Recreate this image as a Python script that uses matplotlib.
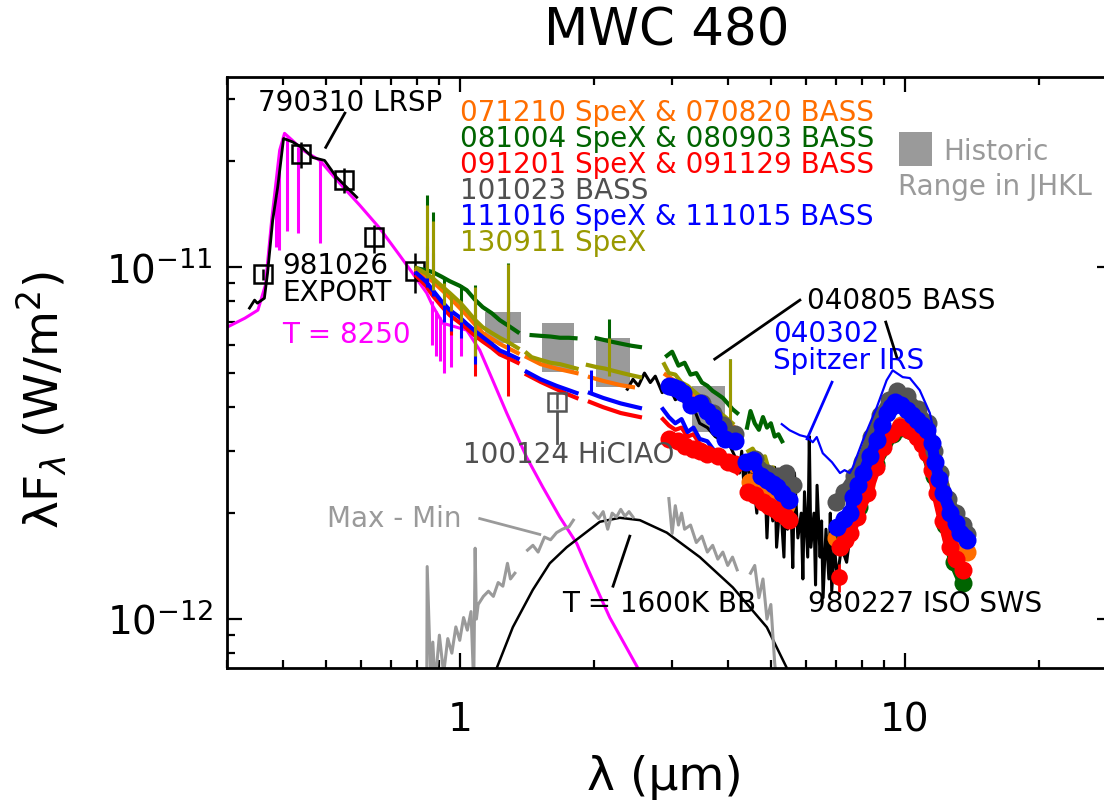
import numpy as np
import matplotlib
matplotlib.use("Agg")
import matplotlib.pyplot as plt
from matplotlib.ticker import FuncFormatter, NullFormatter

nan = np.nan
SCALE = 1e-12  # all fluxes below are in units of 1e-12 W/m^2

# --- colours of the data sets
c_orange = '#ff6e00'
c_green = '#006400'
c_red = '#ff0000'
c_gray = '#555555'
c_blue = '#0000ff'
c_olive = '#999900'
c_hist = '#9a9a9a'

# --- Kurucz model, T = 8250
model_wl = [0.30, 0.329, 0.352, 0.366, 0.378, 0.394, 0.404, 0.421, 0.444, 0.485, 0.529, 0.596,
            0.661, 0.733, 0.784, 0.843, 0.870, 0.916, 1.037, 1.109, 1.186, 1.275, 1.414, 1.537,
            1.678, 1.832, 1.929, 2.173, 2.512, 2.67]
model_fx = [6.75, 7.16, 7.55, 8.89, 13.6, 21.5, 24.0, 22.9, 21.5, 20.1, 17.7, 15.0,
            12.9, 10.8, 9.6, 8.44, 7.75, 6.93, 6.62, 5.81, 4.77, 3.85, 2.88, 2.37,
            1.95, 1.64, 1.41, 1.01, 0.726, 0.63]
model_line_wl = [0.386, 0.392, 0.410, 0.434, 0.486, 0.866, 0.886, 0.901, 0.923, 0.955, 1.005]
model_line_lo = [11.4, 11.2, 12.7, 12.5, 11.7, 6.0, 5.6, 5.4, 5.0, 5.2, 5.6]
model_line_hi = [16.0, 19.5, 23.5, 22.0, 20.0, 8.0, 7.5, 7.2, 6.9, 6.8, 6.6]

# --- 790310 LRSP
lrsp_wl = [0.337, 0.346, 0.351, 0.364, 0.370, 0.380, 0.390, 0.402, 0.421, 0.444, 0.467, 0.497, 0.529, 0.587]
lrsp_fx = [7.65, 8.06, 7.90, 8.16, 9.61, 13.6, 16.9, 23.2, 22.7, 21.8, 20.5, 20.1, 18.0, 15.8]

# --- 981026 EXPORT photometry (UBVRI)
phot_wl = [0.361, 0.439, 0.549, 0.641, 0.792]
phot_fx = [9.55, 20.9, 17.7, 12.2, 9.74]
phot_lo = [9.2, 19.1, 16.2, 11.0, 8.44]
phot_hi = [9.9, 22.7, 19.1, 13.2, 11.0]

# --- 100124 HiCIAO
hiciao_wl = [1.65]
hiciao_fx = [4.13]
hiciao_lo = [3.95]
hiciao_hi = [4.40]

# --- T = 1600 K blackbody
bb_wl = [1.15, 1.211, 1.316, 1.459, 1.593, 1.739, 2.064, 2.289, 2.539, 2.919, 3.462, 4.107, 4.897, 5.43, 5.81]
bb_fx = [0.60, 0.726, 0.948, 1.21, 1.44, 1.60, 1.89, 1.94, 1.91, 1.76, 1.50, 1.23, 0.948, 0.726, 0.608]

# --- historic range in J, H, K, L
hist_lo = [1.14, 1.53, 2.02, 3.32]
hist_hi = [1.37, 1.81, 2.41, 3.94]
hist_fmin = [6.08, 5.04, 4.56, 3.40]
hist_fmax = [7.45, 6.93, 6.28, 4.59]

# --- Max - Min spectrum
mm_wl = [0.843, 0.845, 0.86, 0.87, 0.88, 0.90, 0.92, 0.94, 0.96, 0.98, 1.00, 1.02, 1.04, 1.06, 1.075,
         1.083, 1.09, 1.10, 1.13, 1.16, 1.19, 1.22, 1.25, 1.28, 1.30, 1.33, nan,
         1.42, 1.46, 1.50, 1.55, 1.60, 1.65, 1.70, 1.76, 1.80, nan,
         2.00, 2.05, 2.10, 2.15, 2.20, 2.25, 2.30, 2.35, 2.40, 2.45, nan,
         2.95, 3.0, 3.05, 3.1, 3.15, 3.2, 3.3, 3.4, 3.5, 3.6, 3.7, 3.8, 3.9, 4.0, 4.1, 4.2, nan,
         4.5, 4.6, 4.7, 4.8, 4.9, 5.0, 5.1, 5.2]
mm_fx = [0.6, 1.41, 0.70, 0.86, 0.65, 0.90, 0.70, 0.88, 0.80, 0.95, 0.87, 1.01, 0.93, 1.05, 0.65,
         1.59, 1.0, 1.10, 1.16, 1.20, 1.16, 1.27, 1.24, 1.44, 1.30, 1.35, nan,
         1.57, 1.62, 1.55, 1.71, 1.68, 1.76, 1.80, 1.83, 1.91, nan,
         2.0, 1.93, 2.02, 1.80, 2.00, 1.95, 2.05, 1.96, 2.02, 1.95, nan,
         2.2, 1.75, 2.1, 1.85, 2.0, 1.8, 1.85, 1.65, 1.72, 1.55, 1.62, 1.48, 1.55, 1.42, 1.50, 1.38, nan,
         1.35, 1.42, 1.15, 1.30, 1.0, 1.1, 0.75, 0.6]

# --- 980227 ISO SWS
iso_wl = [2.38, 2.45, 2.52, 2.6, 2.68, 2.75, 2.85, 2.95, 3.05, 3.15, 3.25, 3.35, 3.46, 3.6, 3.75,
          3.9, 4.05, 4.15, 4.25, 4.3, 4.35, 4.45, 4.5, 4.55, 4.65, 4.7, 4.75, 4.85, 4.9, 4.95,
          5.05, 5.1, 5.15, 5.25, 5.35, 5.4, 5.45, 5.55, 5.6, 5.65, 5.75, 5.85, 5.9, 5.95, 6.05,
          6.1, 6.15, 6.25, 6.3, 6.35, 6.45, 6.5, 6.55, 6.65, 6.75, 6.8, 6.85, 6.95, 7.05,
          7.2, 7.4, 7.6, 7.8, 8.0, 8.3, 8.6, 8.9, 9.2, 9.5, 9.8, 10.1, 10.5, 10.9, 11.3, 11.7, 12.0]
iso_fx = [4.5, 4.8, 4.6, 5.0, 4.7, 4.9, 4.4, 4.6, 4.2, 4.3, 3.9, 4.0, 3.6, 3.5, 3.3,
          3.2, 3.1, 2.9, 2.6, 3.0, 2.4, 2.9, 2.2, 2.6, 2.0, 2.9, 2.1, 2.5, 1.7, 2.3,
          1.9, 2.7, 1.6, 2.2, 1.5, 2.5, 1.8, 2.1, 1.4, 2.6, 1.7, 2.0, 1.3, 2.3, 1.5,
          3.3, 1.6, 2.0, 1.25, 2.4, 1.5, 1.9, 1.15, 1.8, 1.3, 2.0, 1.2, 1.6, 1.3,
          1.6, 1.45, 1.9, 2.1, 2.4, 2.8, 3.1, 3.3, 3.4, 3.45, 3.4, 3.3, 3.2, 3.0, 2.8, 2.5, 2.3]

# --- SpeX spectra
green_wl = [0.80, 0.84, 0.87, 0.91, 0.95, 1.00, 1.037, 1.08, 1.126, 1.18, 1.23, 1.29, 1.35, nan,
            1.45, 1.52, 1.60, 1.68, 1.76, 1.82, nan, 2.03, 2.12, 2.22, 2.32, 2.43, 2.54, nan,
            2.92, 3.0, 3.1, 3.2, 3.3, 3.4, 3.5, 3.6, 3.7, 3.8, 3.9, 4.0, 4.1, 4.2, nan,
            4.42, 4.5, 4.6, 4.7, 4.8, 4.9, 5.0, 5.1, 5.2, 5.3]
green_fx = [9.93, 9.8, 9.68, 9.4, 9.12, 8.85, 8.60, 8.1, 7.70, 7.4, 7.07, 6.8, 6.54, nan,
            6.41, 6.38, 6.35, 6.3, 6.3, 6.28, nan, 6.28, 6.2, 6.12, 6.05, 5.98, 5.93, nan,
            5.6, 5.75, 5.25, 5.35, 4.95, 5.0, 4.7, 4.6, 4.45, 4.35, 4.25, 4.1, 3.95, 3.85, nan,
            3.5, 3.9, 3.6, 3.45, 3.75, 3.5, 3.6, 3.3, 3.35, 3.2]
olive_wl = [0.80, 0.84, 0.87, 0.91, 0.95, 1.00, 1.037, 1.08, 1.126, 1.18, 1.23, 1.29, 1.35, nan,
            1.414, 1.45, 1.52, 1.60, 1.68, 1.76, 1.83, nan, 1.94, 2.03, 2.12, 2.22, 2.32, 2.43, 2.54, nan,
            2.88, 2.95, 3.05, 3.15, 3.25, 3.35, 3.46, 3.6, 3.7, 3.8, 3.95, 4.1, nan,
            4.45, 4.55, 4.7, 4.85, 4.95, 5.05, 5.15]
olive_fx = [9.93, 9.6, 9.3, 8.85, 8.44, 7.95, 7.55, 7.1, 6.75, 6.5, 6.3, 6.1, 5.89, nan,
            5.7, 5.55, 5.45, 5.35, 5.3, 5.22, 5.15, nan, 5.27, 5.2, 5.15, 5.07, 5.0, 4.93, 4.87, nan,
            5.3, 5.0, 4.95, 4.7, 4.6, 4.45, 4.3, 4.1, 4.0, 3.9, 3.75, 3.6, nan,
            3.0, 3.05, 2.85, 2.9, 2.65, 2.7, 2.48]
orange_wl = [0.80, 0.87, 0.95, 1.037, 1.126, 1.23, 1.35, nan, 1.414, 1.52, 1.65, 1.83, nan,
             1.96, 2.1, 2.3, 2.45, nan, 2.9, 3.2, 3.5, 3.8, 4.15, nan, 4.45, 4.7, 4.95, 5.15]
orange_fx = [9.8, 9.1, 8.2, 7.3, 6.5, 6.05, 5.7, nan, 5.55, 5.3, 5.15, 5.0, nan,
             4.87, 4.75, 4.62, 4.56, nan, 4.95, 4.55, 4.15, 3.8, 3.5, nan, 2.7, 2.55, 2.45, 2.35]
blue_wl = [0.80, 0.84, 0.87, 0.91, 0.95, 1.00, 1.037, 1.08, 1.126, 1.18, 1.23, 1.29, 1.35, nan,
           1.414, 1.52, 1.65, 1.75, 1.83, nan, 1.96, 2.1, 2.3, 2.54, nan,
           2.86, 2.95, 3.05, 3.15, 3.25, 3.35, 3.46, 3.6, 3.7, 3.8, 4.0, 4.2, nan,
           4.45, 4.6, 4.7, 4.85, 4.95, 5.05, 5.15]
blue_fx = [9.61, 9.1, 8.6, 8.0, 7.55, 7.2, 6.9, 6.6, 6.33, 6.05, 5.8, 5.65, 5.5, nan,
           5.04, 4.8, 4.6, 4.48, 4.39, nan, 4.39, 4.25, 4.1, 3.98, nan,
           3.95, 3.75, 3.6, 3.7, 3.4, 3.5, 3.25, 3.2, 3.05, 2.95, 2.85, 2.7, nan,
           2.5, 2.35, 2.3, 2.2, 2.15, 2.05, 2.0]
red_wl = blue_wl
red_fx = [9.43, 8.85, 8.3, 7.75, 7.3, 6.95, 6.7, 6.4, 6.15, 5.9, 5.65, 5.5, 5.35, nan,
          4.95, 4.72, 4.5, 4.35, 4.25, nan, 4.14, 4.0, 3.85, 3.75, nan,
          3.7, 3.55, 3.45, 3.5, 3.3, 3.35, 3.15, 3.05, 2.95, 2.9, 2.75, 2.6, nan,
          2.35, 2.25, 2.2, 2.1, 2.05, 1.97, 1.92]

# emission / absorption lines in the SpeX spectra: (wavelength, low, high)
green_lines = [(0.844, 9.5, 16.0), (0.869, 8.8, 14.3), (0.923, 8.2, 9.4), (1.005, 7.7, 8.9),
               (1.083, 6.2, 8.9), (1.282, 7.0, 10.3), (2.166, 6.1, 7.1), (4.05, 3.9, 5.5)]
olive_lines = [(0.844, 9.3, 15.0), (0.869, 8.6, 13.5), (0.923, 7.8, 9.0), (0.955, 7.5, 8.4),
               (1.005, 7.0, 8.0), (1.083, 5.6, 8.8), (1.282, 6.1, 10.2), (2.166, 4.9, 6.3),
               (4.05, 3.6, 5.5)]
orange_lines = [(1.083, 5.4, 8.0), (1.282, 5.8, 8.0)]
blue_lines = [(0.844, 8.8, 11.5), (0.869, 8.3, 11.0), (0.923, 7.0, 8.1), (0.955, 6.6, 7.6),
              (1.005, 6.3, 7.2), (1.083, 5.3, 7.3), (1.282, 5.6, 7.4), (1.97, 4.39, 5.1)]
red_lines = [(0.955, 6.4, 7.3), (1.083, 4.9, 6.9), (1.282, 4.3, 6.0)]

# --- BASS spectra
blue_bass_wl = [2.95, 3.02, 3.1, 3.18, 3.3, 3.46, 3.6, 3.7, 3.8, 3.95, 4.15, nan,
                4.4, 4.55, 4.75, 4.9, 5.05, 5.16, 5.3, 5.5, nan,
                7.04, 7.3, 7.52, 7.64, 7.85, 8.05, 8.35, 8.65, 8.9, 9.1, 9.3, 9.5, 9.8, 10.1, 10.4,
                10.64, 10.9, 11.21, 11.5, 11.68, 11.95, 12.2, 12.62, 13.0, 13.3, 13.78]
blue_bass_fx = [4.6, 4.55, 4.5, 4.4, 4.05, 4.1, 3.9, 3.75, 3.5, 3.25, 3.2, nan,
                2.8, 2.83, 2.55, 2.48, 2.42, 2.37, 2.28, 2.18, nan,
                1.83, 1.92, 2.0, 2.22, 2.4, 2.6, 2.9, 3.22, 3.55, 3.85, 4.0, 4.14, 4.05, 3.92, 3.8,
                3.67, 3.55, 3.44, 3.16, 2.8, 2.5, 2.28, 2.0, 1.88, 1.76, 1.68]
gray_bass_wl = [3.5, 3.7, 3.9, 4.15, nan, 4.6, 4.9, 5.2, 5.4, 5.6, nan,
                7.0, 7.3, 7.7, 8.0, 8.4, 8.8, 9.2, 9.6, 10.1, 10.7, 11.3, 11.6, 12.0, 12.5, 13.0,
                13.5, 13.8]
gray_bass_fx = [4.1, 3.85, 3.55, 3.35, nan, 2.85, 2.6, 2.55, 2.6, 2.4, nan,
                2.15, 2.3, 2.55, 2.8, 3.3, 3.8, 4.2, 4.45, 4.3, 3.95, 3.6, 3.0, 2.6, 2.2, 2.0,
                1.85, 1.75]
red_bass_wl = [2.95, 3.1, 3.2, 3.35, 3.46, 3.6, 3.8, 4.0, 4.15, nan,
               4.45, 4.6, 4.8, 4.95, 5.1, 5.25, 5.4, 5.5, nan,
               7.15, 7.35, 7.52, 7.8, 8.22, 8.6, 8.93, 9.3, 9.75, 10.2, 10.64, 10.9, 11.21, 11.5,
               11.8, 12.2, 12.62, 13.0, 13.5]
red_bass_fx = [3.25, 3.2, 3.1, 3.05, 3.0, 2.95, 2.9, 2.8, 2.75, nan,
               2.3, 2.25, 2.15, 2.1, 2.05, 2.0, 1.95, 1.91, nan,
               1.6, 1.68, 1.76, 1.95, 2.28, 2.7, 3.08, 3.35, 3.51, 3.45, 3.29, 3.15, 2.96, 2.65,
               2.28, 1.9, 1.6, 1.48, 1.38]
green_bass_wl = [7.3, 7.9, 8.6, 9.4, 10.2, 11.0, 11.6, 12.3, 12.9, 13.5]
green_bass_fx = [1.75, 2.08, 2.75, 3.35, 3.45, 3.15, 2.55, 1.85, 1.45, 1.27]
orange_bass_wl = [4.5, 4.8, 5.1, 5.4, nan, 7.0, 7.5, 8.2, 9.0, 9.8, 10.6, 11.4, 12.0, 12.7, 13.3, 13.8]
orange_bass_fx = [2.45, 2.35, 2.25, 2.1, nan, 1.7, 1.9, 2.4, 3.2, 3.55, 3.4, 3.0, 2.4, 1.85, 1.6, 1.55]
red_point_wl = [7.10]
red_point_fx = [1.32]
red_point_lo = [1.19]
red_point_hi = [1.43]

# --- 040302 Spitzer IRS
irs_wl = [5.29, 5.51, 5.81, 6.03, 6.21, 6.34, 6.54, 6.86, 7.15, 7.32, 7.52, 7.64, 8.05, 8.65,
          9.10, 9.39, 9.89, 10.26, 10.8, 11.38, 11.68, 11.97, 12.62, 13.5, 14.1]
irs_fx = [3.58, 3.44, 3.33, 3.29, 3.18, 3.29, 2.96, 2.79, 2.60, 2.65, 2.60, 2.70, 3.22, 4.0,
          4.77, 5.09, 4.87, 4.84, 4.47, 3.85, 3.29, 2.70, 2.22, 1.83, 1.76]


def f(a):
    return np.asarray(a, dtype=float) * SCALE


fig = plt.figure(figsize=(11.04, 8.06), dpi=100)
# right edge of the box sits just past the picture, as in the original
ax = fig.add_axes([227 / 1104, 138 / 806, 885 / 1104, 591 / 806])
ax.set_xscale('log')
ax.set_yscale('log')
ax.set_xlim(0.3, 29.2)
ax.set_ylim(7.26e-13, 3.47e-11)

# historic range boxes
for lo, hi, fmin, fmax in zip(hist_lo, hist_hi, hist_fmin, hist_fmax):
    ax.fill_between([lo, hi], f([fmin, fmin]), f([fmax, fmax]), color=c_hist, lw=0, zorder=1)

# model, blackbody, max-min
ax.plot(model_wl, f(model_fx), color='magenta', lw=2.2, zorder=2)
ax.vlines(model_line_wl, f(model_line_lo), f(model_line_hi), color='magenta', lw=2.2, zorder=2)
ax.plot(bb_wl, f(bb_fx), color='black', lw=1.8, zorder=2)
ax.plot(mm_wl, f(mm_fx), color=c_hist, lw=2.2, zorder=2)

# optical data
ax.plot(lrsp_wl, f(lrsp_fx), color='black', lw=2, zorder=3)
ax.vlines(phot_wl, f(phot_lo), f(phot_hi), color='black', lw=1.8, zorder=3)
ax.plot(phot_wl, f(phot_fx), ls='none', marker='s', ms=13, mfc='none', mec='black', mew=1.8, zorder=3)

# ISO SWS
ax.plot(iso_wl, f(iso_fx), color='black', lw=2.2, zorder=3)

# SpeX
for wl, fx, col, lines in [(green_wl, green_fx, c_green, green_lines),
                           (orange_wl, orange_fx, c_orange, orange_lines),
                           (red_wl, red_fx, c_red, red_lines),
                           (blue_wl, blue_fx, c_blue, blue_lines),
                           (olive_wl, olive_fx, c_olive, olive_lines)]:
    ax.plot(wl, f(fx), color=col, lw=3, zorder=4)
    lw_, lo_, hi_ = zip(*lines)
    ax.vlines(lw_, f(lo_), f(hi_), color=col, lw=2.2, zorder=4)

# BASS
for wl, fx, col in [(orange_bass_wl, orange_bass_fx, c_orange),
                    (green_bass_wl, green_bass_fx, c_green),
                    (red_bass_wl, red_bass_fx, c_red),
                    (gray_bass_wl, gray_bass_fx, c_gray),
                    (blue_bass_wl, blue_bass_fx, c_blue)]:
    ax.plot(wl, f(fx), color=col, lw=8, marker='o', ms=13, mew=0, zorder=5,
            solid_capstyle='round')
ax.vlines(red_point_wl, f(red_point_lo), f(red_point_hi), color=c_red, lw=2, zorder=5)
ax.plot(red_point_wl, f(red_point_fx), ls='none', marker='o', ms=12, color=c_red, mew=0, zorder=5)

# Spitzer IRS
ax.plot(irs_wl, f(irs_fx), color=c_blue, lw=1.6, zorder=6)

# HiCIAO
ax.vlines(hiciao_wl, f(hiciao_lo), f(hiciao_hi), color=c_gray, lw=1.8, zorder=6)
ax.plot(hiciao_wl, f(hiciao_fx), ls='none', marker='s', ms=13, mfc='none', mec=c_gray, mew=1.8, zorder=6)

# annotation text
fs = 20
txt = [
    (0.352, 29.2, '790310 LRSP', 'black'),
    (0.400, 9.2, '981026\nEXPORT', 'black'),
    (0.400, 6.41, 'T = 8250', 'magenta'),
    (1.0, 27.4, '071210 SpeX & 070820 BASS', c_orange),
    (1.0, 23.1, '081004 SpeX & 080903 BASS', c_green),
    (1.0, 19.5, '091201 SpeX & 091129 BASS', c_red),
    (1.0, 16.5, '101023 BASS', '#505050'),
    (1.0, 13.9, '111016 SpeX & 111015 BASS', c_blue),
    (1.0, 11.7, '130911 SpeX', c_olive),
    (12.17, 21.2, 'Historic', c_hist),
    (9.65, 16.9, 'Range in JHKL', c_hist),
    (6.02, 8.0, '040805 BASS', 'black'),
    (5.05, 5.9, '040302\nSpitzer IRS', c_blue),
    (1.016, 2.93, '100124 HiCIAO', '#505050'),
    (0.503, 1.93, 'Max - Min', c_hist),
    (1.70, 1.10, 'T = 1600K BB', 'black'),
    (6.06, 1.10, '980227 ISO SWS', 'black'),
]
for x, y, s, col in txt:
    ax.text(x, y * SCALE, s, color=col, fontsize=fs, ha='left', va='center',
            linespacing=0.95, zorder=7)

ax.fill_between([9.70, 11.50], [19.4e-12, 19.4e-12], [24.2e-12, 24.2e-12], color=c_hist, lw=0,
                zorder=7, clip_on=False)

# pointer lines
pointers = [
    ((0.552, 0.500), (27.4, 21.9), 'black'),
    ((5.81, 3.74), (8.06, 5.48), 'black'),
    ((9.06, 9.59), (6.98, 5.55), 'black'),
    ((6.86, 6.03), (4.71, 3.25), c_blue),
    ((1.65, 1.65), (3.87, 3.16), c_gray),
    ((1.109, 1.513), (1.93, 1.74), c_hist),
    ((2.41, 2.21), (1.72, 1.24), 'black'),
]
for xs, ys, col in pointers:
    ax.plot(xs, f(ys), color=col, lw=2, zorder=7)

# axes styling
for sp in ax.spines.values():
    sp.set_linewidth(2)
ax.set_xticks([1, 10])
ax.set_yticks([1e-12, 1e-11])
ax.tick_params(which='both', direction='in', top=True, right=True, width=1.6, labelsize=28)
ax.tick_params(which='major', length=11)
ax.tick_params(which='minor', length=5.5)
ax.tick_params(axis='x', which='major', pad=24)
ax.tick_params(axis='y', which='major', pad=10)
ax.xaxis.set_major_formatter(FuncFormatter(lambda v, p: f"{v:g}"))
ax.xaxis.set_minor_formatter(NullFormatter())
ax.yaxis.set_minor_formatter(NullFormatter())

fig.text(667 / 1104, 1 - 31 / 806, 'MWC 480', fontsize=37, ha='center', va='center')
fig.text(665 / 1104, 1 - 778 / 806, 'λ (μm)', fontsize=34, ha='center', va='center')
fig.text(42 / 1104, 1 - 400 / 806, r'λF$_\lambda$ (W/m$^2$)', fontsize=34, ha='center',
         va='center', rotation=90)

fig.savefig('out.png', dpi=100)
